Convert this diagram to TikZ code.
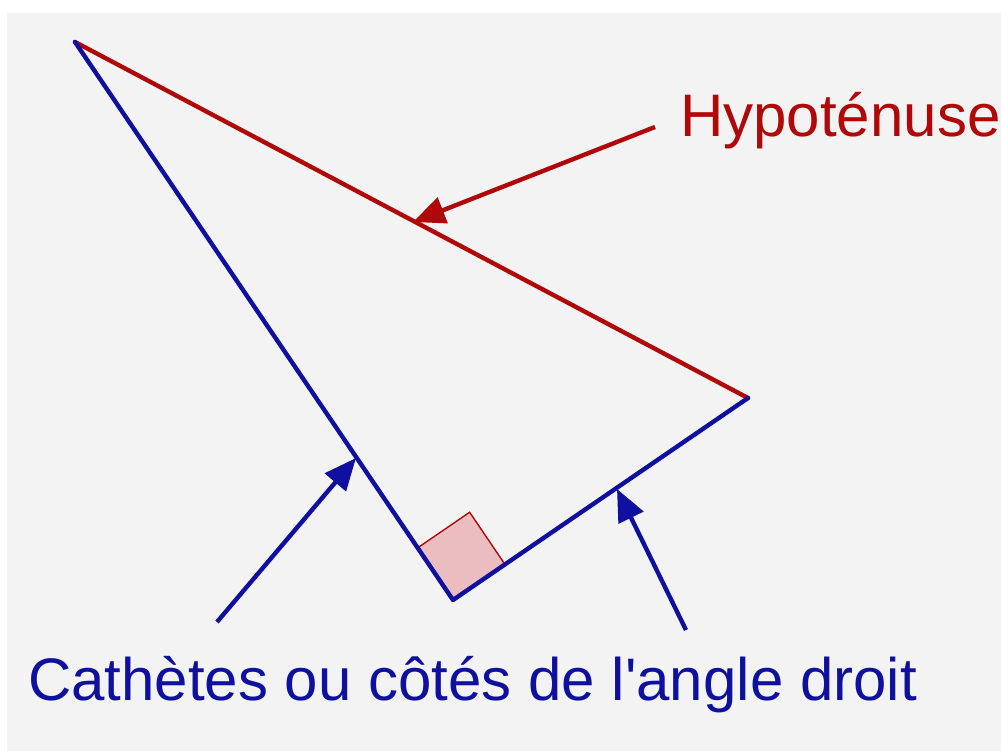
\documentclass[tikz,border=0pt]{standalone}
\usepackage{fontspec}
\newfontfamily\labelfont{Liberation Sans}
\usetikzlibrary{arrows.meta,calc}
\definecolor{bgc}{RGB}{243,243,243}
\definecolor{catblue}{RGB}{16,16,160}
\definecolor{hypred}{RGB}{176,8,8}
\definecolor{sqfill}{RGB}{234,190,192}
\tikzset{
  side/.style={line width=4.4pt, line cap=round, line join=round},
  pointer/.style={line width=4.4pt, -{Triangle[length=32pt,width=27pt]}},
  lbl/.style={inner sep=0pt, anchor=base west, font=\labelfont\fontsize{60}{72}\selectfont},
}
\begin{document}
\begin{tikzpicture}[x=1pt,y=-1pt]
\useasboundingbox (0,0) rectangle (1001,751);
\fill[white] (0,0) rectangle (1001,751);
\fill[bgc] (7,13) rectangle (1001,751);
% vertices
\coordinate (A) at (75,42);
\coordinate (B) at (748,398);
\coordinate (C) at (453,600);
% right angle square
\coordinate (P) at ($(C)!63pt!(A)$);
\coordinate (Q) at ($(C)!63pt!(B)$);
\coordinate (R) at ($(P)+(Q)-(C)$);
\fill[sqfill] (C) -- (P) -- (R) -- (Q) -- cycle;
\draw[hypred, line width=1.4pt] (P) -- (R) -- (Q);
% sides
\draw[side, hypred] (A) -- (B);
\draw[side, catblue] (A) -- (C) -- (B);
% labels
\node[lbl, text=hypred] (hyp) at (680,137) {Hypoténuse};
\node[lbl, text=catblue] (cat) at (28,700) {Cathètes ou côtés de l'angle droit};
% pointers
\coordinate (h0) at (655,127);
\coordinate (h1) at (413,222);
\draw[pointer, hypred] (h0) -- (h1);
\coordinate (c0) at (217,622);
\coordinate (c1) at (356,458);
\draw[pointer, catblue] (c0) -- (c1);
\coordinate (d0) at (686,630);
\coordinate (d1) at (617,489);
\draw[pointer, catblue] (d0) -- (d1);
\end{tikzpicture}
\end{document}
